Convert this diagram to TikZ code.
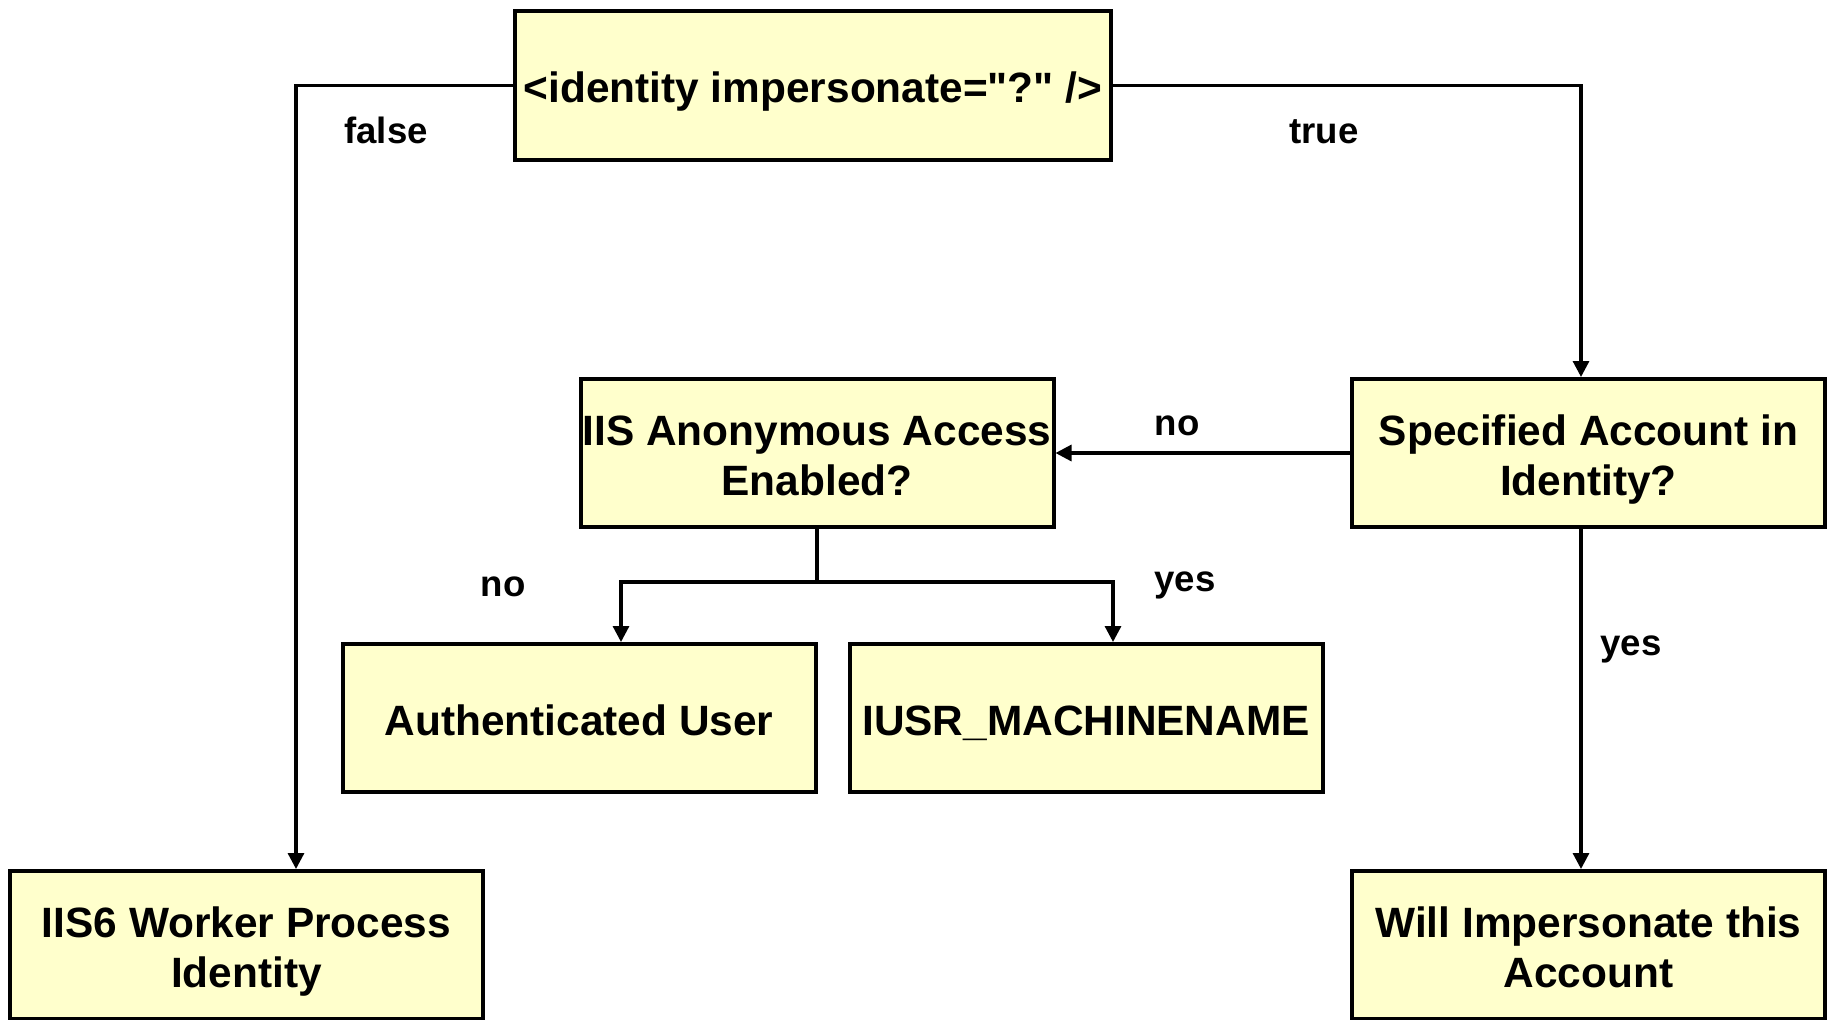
\documentclass[tikz,border=0pt]{standalone}
\usepackage{fontspec}
\setmainfont{Liberation Sans}[Ligatures=TeXOff]
\usepackage{tikz}
\usetikzlibrary{positioning,arrows.meta}
\definecolor{boxfill}{HTML}{FFFFCC}
\newcommand{\boxstrut}{\rule[-4.8pt]{0pt}{26.8pt}}
\newcommand{\boxfont}{\fontsize{21.2}{25}\selectfont\bfseries\lineskiplimit=-50pt\relax}
\tikzstyle{rect} = [rectangle, draw=black, line width=2pt, fill=boxfill, minimum width=236.5pt, minimum height=74pt, inner sep=0pt, align=center, font=\boxfont, execute at begin node=\boxstrut, execute at end node=\boxstrut]
\tikzstyle{arrow} = [line width=1.6pt, -{Triangle[length=8pt,width=8pt]}]
\tikzstyle{line} = [line width=1.6pt]
\begin{document}
\begin{tikzpicture}[x=0.5pt,y=-0.5pt]
\tikzset{%
	twoline/.style = {text height=47pt, text depth=4.8pt},
	tag/.style = {inner sep=0pt, text height=13pt, text depth=4pt, font=\fontsize{18.3}{22}\selectfont\bfseries}
}
\useasboundingbox (0,0) rectangle (1836,1019);

\node(imp) [rect, minimum width=298pt, minimum height=74.5pt] at (813,85.5) {<identity impersonate="?" />};
\node(anon) [rect, twoline] at (817,453) {IIS Anonymous Access\\Enabled?};
\node(spec) [rect, twoline] at (1588.5,453) {Specified Account in\\Identity?};
\node(auth) [rect] at (579,718) {Authenticated User};
\node(iusr) [rect, right=15pt of auth] {IUSR\_MACHINENAME};
\node(iis6) [rect, twoline] at (246.5,945) {IIS6 Worker Process\\Identity};
\node(will) [rect, twoline] at (1588.5,945) {Will Impersonate this\\Account};

\node(lfalse) [tag] at (386,134) {false};
\node(ltrue) [tag] at (1324,134) {true};
\node(lno1) [tag] at (1177,426) {no};
\node(lno2) [tag] at (503,587) {no};
\node(lyes1) [tag] at (1185,582) {yes};
\node(lyes2) [tag] at (1631,646) {yes};

\draw [arrow] (imp.west) -| ([xshift=24.75pt]iis6.north);
\draw [arrow] (imp.east) -| ([xshift=-3.75pt]spec.north);
\draw [arrow] (spec.west) -- (anon.east);
\draw [line] (anon.south) -- ++(0pt,-26.5pt) coordinate (split);
\draw [arrow] (split) -| ([xshift=21pt]auth.north);
\draw [arrow] (split) -| ([xshift=13.5pt]iusr.north);
\draw [arrow] ([xshift=-3.75pt]spec.south) -- ([xshift=-3.75pt]will.north);
\end{tikzpicture}
\end{document}
